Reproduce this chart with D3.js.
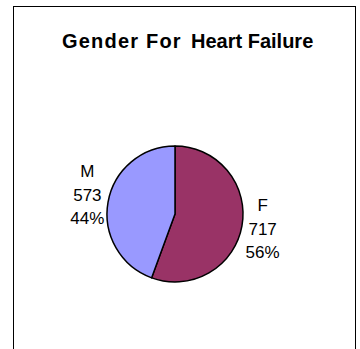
<!DOCTYPE html>
<html>
<head>
<meta charset="utf-8">
<script src="https://cdn.jsdelivr.net/npm/d3@7"></script>
<style>
  html, body { margin: 0; padding: 0; background: #fff; }
  svg { display: block; }
</style>
</head>
<body>
<svg id="chart" width="360" height="349"></svg>
<script>
// Patients with heart failure, by gender
const categories = ["F", "M"];
const counts = [717, 573];
const colors = ["#993366", "#9999FF"];

const svg = d3.select("#chart");

// Chart-area frame (open at the bottom edge of the view)
svg.append("rect")
  .attr("x", 13.5).attr("y", 6.5)
  .attr("width", 342).attr("height", 400)
  .attr("fill", "#fff")
  .attr("stroke", "#000")
  .attr("stroke-width", 1);

// Title
const title = svg.append("text")
  .attr("y", 48)
  .attr("font-family", "'Liberation Sans', Arial, sans-serif")
  .attr("font-weight", "bold")
  .attr("font-size", 20)
  .attr("fill", "#000");
title.append("tspan").attr("x", 62).attr("letter-spacing", 1.2).text("Gender For");
title.append("tspan").attr("x", 191).text("Heart Failure");

const cx = 175, cy = 214, r = 68;
const total = d3.sum(counts);
const data = categories.map((c, i) => ({ cat: c, value: counts[i], color: colors[i] }));

const pie = d3.pie().sort(null).value(d => d.value);
const arc = d3.arc().innerRadius(0).outerRadius(r);
const arcs = pie(data);

const g = svg.append("g").attr("transform", `translate(${cx},${cy})`);
g.selectAll("path")
  .data(arcs)
  .join("path")
  .attr("d", arc)
  .attr("fill", d => d.data.color)
  .attr("stroke", "#000")
  .attr("stroke-width", 1.5)
  .attr("stroke-linejoin", "round");

// Labels placed outside the slices: category, value, percent
const lineH = 23.5;
arcs.forEach(d => {
  const mid = (d.startAngle + d.endAngle) / 2;
  const x = cx + Math.sin(mid) * (r + 21);
  const yTop = d.data.cat === "F" ? 211 : 177;
  const lines = [d.data.cat, String(d.data.value), Math.round(d.data.value / total * 100) + "%"];
  const t = svg.append("text")
    .attr("text-anchor", "middle")
    .attr("font-family", "'Liberation Sans', Arial, sans-serif")
    .attr("font-size", 17)
    .attr("fill", "#000");
  lines.forEach((s, i) => {
    t.append("tspan").attr("x", x).attr("y", yTop + i * lineH).text(s);
  });
});
</script>
</body>
</html>
